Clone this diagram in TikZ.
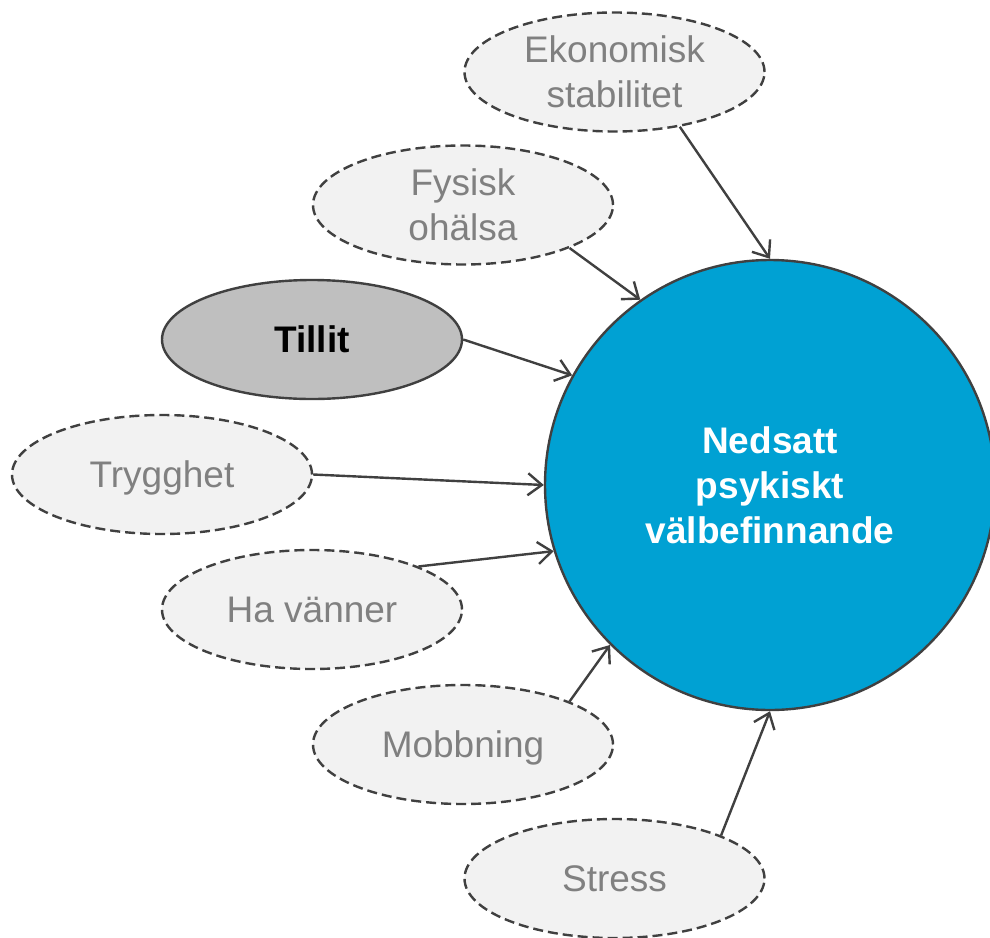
\documentclass[tikz,border=0pt]{standalone}
\usepackage{fontspec}
\setmainfont{Liberation Sans}
\usepackage{tikz}
\usetikzlibrary{arrows.meta,shapes.geometric}
\definecolor{edgegray}{RGB}{64,64,64}
\definecolor{labelgray}{RGB}{128,128,128}
\definecolor{bubblefill}{RGB}{242,242,242}
\definecolor{trustfill}{RGB}{191,191,191}
\definecolor{wellblue}{RGB}{0,161,211}

\begin{document}
\begin{tikzpicture}[x=1pt,y=-1pt,>={Straight Barb[length=14pt,width=22pt]},font=\fontsize{37}{45}\selectfont,
  factor/.style={ellipse,draw=edgegray,line width=2.4pt,dash pattern=on 10pt off 5pt,fill=bubblefill,text=labelgray,
    minimum width=300pt,minimum height=119pt,inner sep=0pt,align=center},
  oneline/.style={text height=33pt,text depth=8pt},
  link/.style={->,draw=edgegray,line width=2.4pt}]
  \useasboundingbox (0,0) rectangle (990,937);
  \node[circle,draw=edgegray,line width=2.4pt,fill=wellblue,text=white,font=\fontsize{37}{45}\selectfont\bfseries,
    minimum size=450pt,inner sep=0pt,align=center,yshift=-2pt] (ned) at (770,483) {Nedsatt\\psykiskt\\välbefinnande};
  \node[factor] (eko) at (614.5,72) {Ekonomisk\\stabilitet};
  \node[factor] (fys) at (463,205) {Fysisk\\ohälsa};
  \node[factor,oneline,solid,fill=trustfill,text=black,font=\fontsize{37}{45}\selectfont\bfseries] (tillit) at (312,339.5) {Tillit};
  \node[factor,oneline] (tryg) at (162,474.5) {Trygghet};
  \node[factor,oneline] (van) at (312,609.5) {Ha vänner};
  \node[factor,oneline] (mob) at (463,744.5) {Mobbning};
  \node[factor,oneline] (stress) at (614.5,878.5) {Stress};
  \draw[link] (eko.-40) -- (ned.90);
  \draw[link] (fys.-22) -- (ned.125);
  \draw[link] (tillit.east) -- (ned.151);
  \draw[link] (tryg.east) -- (ned.180);
  \draw[link] (van.22) -- (ned.197);
  \draw[link] (mob.22) -- (ned.225);
  \draw[link] (stress.22) -- (ned.270);
\end{tikzpicture}
\end{document}
